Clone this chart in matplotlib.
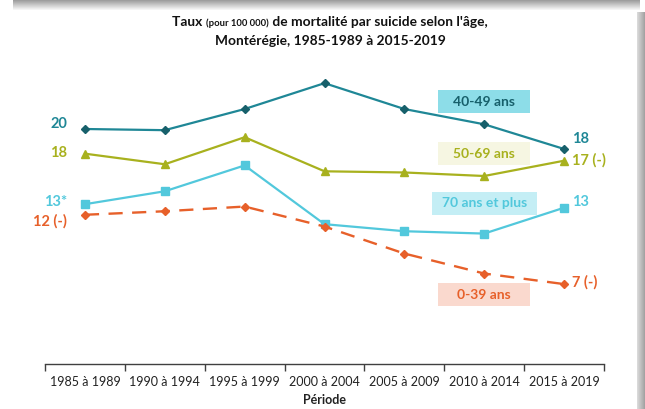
import matplotlib
matplotlib.use("Agg")
import matplotlib.pyplot as plt
from matplotlib.patches import Rectangle
from matplotlib.offsetbox import TextArea, HPacker, AnchoredOffsetbox
import numpy as np

plt.rcParams['font.family'] = ['Lato', 'DejaVu Sans']

periods = ["1985 à 1989", "1990 à 1994", "1995 à 1999", "2000 à 2004",
           "2005 à 2009", "2010 à 2014", "2015 à 2019"]
age_40_49 = [20.0, 19.9, 21.7, 23.9, 21.7, 20.4, 18.3]
age_50_69 = [17.9, 17.0, 19.3, 16.4, 16.3, 16.0, 17.3]
age_70p   = [13.6, 14.7, 16.9, 11.9, 11.3, 11.1, 13.3]
age_0_39  = [12.7, 13.0, 13.4, 11.7, 9.4, 7.7, 6.8]
series_names = ["40-49 ans", "50-69 ans", "70 ans et plus", "0-39 ans"]
first_labels = ["20", "18", "13*", "12 (-)"]
last_labels = ["18", "17 (-)", "13", "7 (-)"]

W, H = 645, 409
fig = plt.figure(figsize=(W/100, H/100), dpi=100)
fig.patch.set_facecolor('white')

# frame decoration (gray shadow bands)
for i in range(10):
    g = 0.62 + 0.038 * i
    fig.patches.append(Rectangle((13/W, 1 - (i+1)/H), (640-13)/W, 1/H,
                                 transform=fig.transFigure, color=str(min(g, 1.0)), lw=0))
for i in range(8):
    g = 0.85 - 0.03 * i
    fig.patches.append(Rectangle(((637+i)/W, 0), 1/W, 1 - 12/H,
                                 transform=fig.transFigure, color=str(g), lw=0))

ax_left, ax_right, ax_top, ax_bottom = 45, 604, 60, 364
ax = fig.add_axes([ax_left/W, 1 - ax_bottom/H, (ax_right-ax_left)/W, (ax_bottom-ax_top)/H])
ymax = (ax_bottom - ax_top) / 11.75
ax.set_xlim(-0.5, 6.5)
ax.set_ylim(0, ymax)
x = np.arange(len(periods))

c_4049 = '#1F8796'
c_4049m = '#17606B'
c_5069 = '#A8B11E'
c_70 = '#52C8DC'
c_039 = '#E7602A'

ax.plot(x, age_40_49, color=c_4049, lw=1.6, marker='D', ms=4.5, mfc=c_4049m, mec=c_4049m, zorder=4)
ax.plot(x, age_50_69, color=c_5069, lw=1.6, marker='^', ms=6, mfc=c_5069, mec=c_5069, zorder=3)
ax.plot(x, age_70p, color=c_70, lw=1.6, marker='s', ms=5.5, mfc=c_70, mec=c_70, zorder=3)
ax.plot(x, age_0_39, color=c_039, lw=1.7, ls=(0, (6, 4)), marker='D', ms=4.5, mfc=c_039, mec=c_039, zorder=3)

for s in ['left', 'right', 'top']:
    ax.spines[s].set_visible(False)
ax.spines['bottom'].set_color('#404040')
ax.spines['bottom'].set_linewidth(1.0)
ax.set_yticks([])
ax.set_xticks(np.arange(-0.5, 7, 1), minor=False)
ax.set_xticklabels([])
ax.set_xticks(x, minor=True)
ax.set_xticklabels(periods, minor=True, fontsize=9, color='#222222')
ax.tick_params(axis='x', which='major', length=5, color='#404040', width=1)
ax.tick_params(axis='x', which='minor', length=0, pad=9)
ax.set_xlabel("Période", fontsize=9, fontweight='bold', color='#222222', labelpad=4)

colors = [c_4049, c_5069, c_70, c_039]
first_y = [(364-124)/11.75, (364-153)/11.75, (364-202)/11.75, (364-221)/11.75]
last_y = [(364-139)/11.75, (364-160)/11.75, (364-202)/11.75, (364-282)/11.75]
for c, fl, ll, fy, ly in zip(colors, first_labels, last_labels, first_y, last_y):
    ax.text(-0.22, fy, fl, color=c, fontsize=10.5, fontweight='bold', ha='right', va='center')
    ax.text(6.1, ly, ll, color=c, fontsize=10.5, fontweight='bold', ha='left', va='center')

# series name boxes
box_specs = [
    (series_names[0], 22.3, '#8DDDE8', c_4049m, 1.15),
    (series_names[1], 17.9, '#F6F6E2', c_5069, 1.15),
    (series_names[2], 13.7, '#C4EEF5', c_70, 1.31),
    (series_names[3], 5.9, '#FAD9CE', c_039, 1.15),
]
hb = 23 / 11.75
for name, yc, bg, tc, wb in box_specs:
    ax.add_patch(Rectangle((5 - wb/2, yc - hb/2), wb, hb, color=bg, lw=0, zorder=1))
    ax.text(5, yc, name, color=tc, fontsize=10, fontweight='bold', ha='center', va='center', zorder=2)

# title
ta1 = TextArea("Taux ", textprops=dict(fontsize=9.9, fontweight='bold', color='#111111'))
ta2 = TextArea("(pour 100 000)", textprops=dict(fontsize=6.8, fontweight='bold', color='#111111'))
ta3 = TextArea(" de mortalité par suicide selon l'âge,", textprops=dict(fontsize=9.9, fontweight='bold', color='#111111'))
hp = HPacker(children=[ta1, ta2, ta3], align='baseline', pad=0, sep=0)
ab = AnchoredOffsetbox(loc='center', child=hp, frameon=False,
                       bbox_to_anchor=(330/W, 1 - 22/H), bbox_transform=fig.transFigure, pad=0, borderpad=0)
fig.add_artist(ab)
fig.text(330/W, 1 - 41/H, "Montérégie, 1985-1989 à 2015-2019", fontsize=9.9, fontweight='bold',
         color='#111111', ha='center', va='center')

fig.savefig("out.png", dpi=100)
